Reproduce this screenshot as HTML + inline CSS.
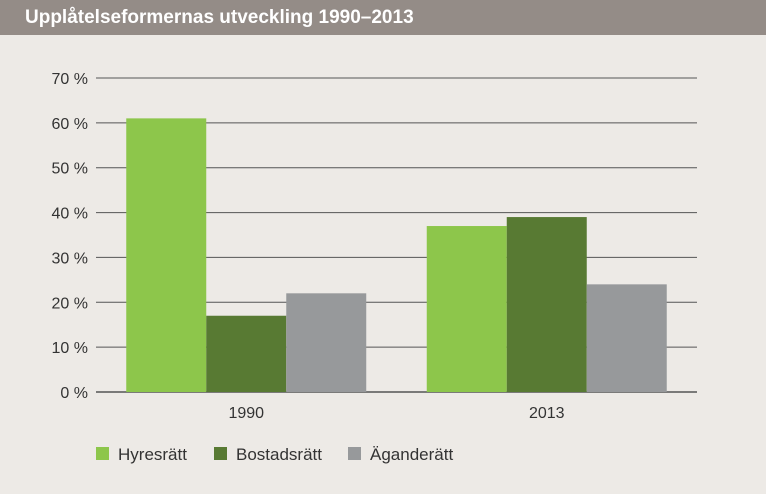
<!DOCTYPE html>
<html><head><meta charset="utf-8"><style>
body{margin:0;width:766px;height:494px;background:#edeae6;font-family:"Liberation Sans",sans-serif;overflow:hidden;position:relative}
#hdr{position:absolute;left:0;top:0;width:766px;height:35px;background:#948c87;color:#fff;font-weight:bold;font-size:19px;line-height:35px;padding-left:25px;box-sizing:border-box}
svg{position:absolute;left:0;top:0}
</style></head><body>
<div id="hdr">Upplåtelseformernas utveckling 1990–2013</div>
<svg id="chart" width="766" height="494"></svg>
<script>
const categories=["1990","2013"];
const seriesNames=["Hyresrätt","Bostadsrätt","Äganderätt"];
const hyresratt=[61,37];
const bostadsratt=[17,39];
const aganderatt=[22,24];
const yTicks=[0,10,20,30,40,50,60,70];
const colors=["#8dc64b","#587a33","#97999b"];
const series=[hyresratt,bostadsratt,aganderatt];
const svg=document.getElementById('chart');
const NS="http://www.w3.org/2000/svg";
const x0=96,x1=697,yBase=392,yTop=78,yMax=70;
const y=v=>yBase-(yBase-yTop)*v/yMax;
const groupW=(x1-x0)/categories.length, barW=80;
function mk(t,a){const e=document.createElementNS(NS,t);for(const k in a)e.setAttribute(k,a[k]);svg.appendChild(e);return e;}
yTicks.forEach(t=>{
 const l=mk('line',{x1:x0,x2:x1,y1:y(t),y2:y(t),stroke:'#555',"stroke-width":t===0?1.5:1});
 
 
 const tx=mk('text',{x:88,y:y(t)+6,"text-anchor":"end","font-size":16,fill:'#333'});
 tx.textContent=t+' %';
 
 
});
categories.forEach((c,i)=>{
 const cx=x0+groupW*(i+0.5);
 series.forEach((s,j)=>{
  const bx=cx-1.5*barW+j*barW;
  const r=mk('rect',{x:bx,y:y(s[i]),width:barW,height:yBase-y(s[i]),fill:colors[j]});
  
  
 });
 const t=mk('text',{x:cx,y:418,"text-anchor":"middle","font-size":16,fill:'#333'});
 t.textContent=c;
 
 
});
const lx=[96,214,348];
seriesNames.forEach((n,j)=>{
 const r=mk('rect',{x:lx[j],y:447,width:13,height:13,fill:colors[j]});
 
 
 const t=mk('text',{x:lx[j]+22,y:460,"font-size":17,fill:'#333'});
 t.textContent=n;
 
 
});
</script>
</body></html>
